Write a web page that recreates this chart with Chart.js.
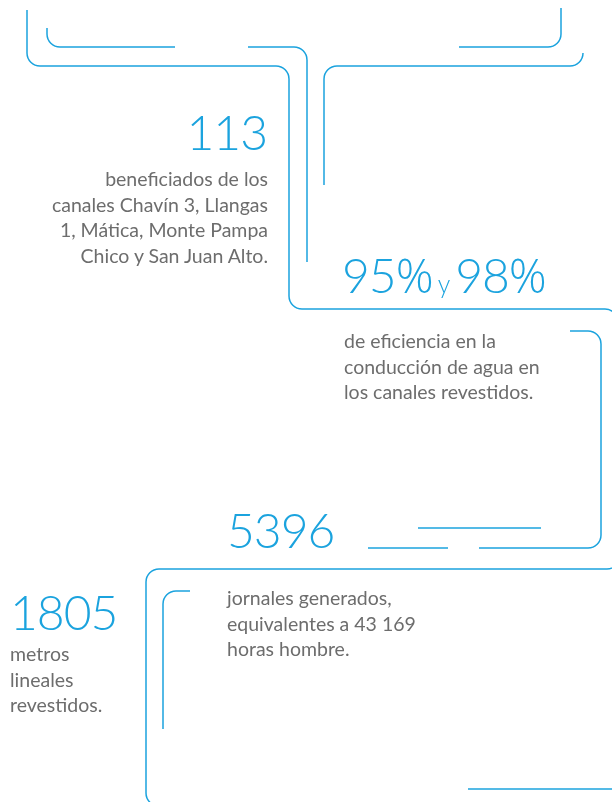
<!DOCTYPE html>
<html lang="es">
<head>
    <meta charset="utf-8" />
    <title>Canales revestidos</title>
    <script src="https://cdn.jsdelivr.net/npm/chart.js"></script>
    <style>
        html, body { margin: 0; padding: 0; background: #fff; }
        #wrap { position: relative; width: 612px; height: 802px; overflow: hidden; }
        #lienzo { position: absolute; left: 0; top: 0; }
        .num, .txt { position: absolute; white-space: nowrap; font-family: Lato, "Open Sans", sans-serif; }
        .num { color: #1ba3de; font-size: 48px; line-height: 48px; font-weight: 300; letter-spacing: -1px; }
        .num small { font-size: 25px; letter-spacing: 0; margin: 0 5px 0 4px; }
        .num .pct { font-family: "Open Sans", sans-serif; font-weight: 300; font-size: 47px; letter-spacing: 0; }
        .txt { color: #6d6d6d; font-size: 19.5px; line-height: 25.5px; font-weight: 400; }
        .right { text-align: right; }
    </style>
</head>
<body>
<div id="wrap">
    <canvas id="lienzo" width="612" height="802"></canvas>
    <div id="textos"></div>
</div>
<script>
    // cifras del informe
    const cifras = ['113', '95%', '98%', '5396', '1805'];
    const textoBeneficiados = ['beneficiados de los', 'canales Chavín 3, Llangas', '1, Mática, Monte Pampa', 'Chico y San Juan Alto.'];
    const textoEficiencia = ['de eficiencia en la', 'conducción de agua en', 'los canales revestidos.'];
    const textoJornales = ['jornales generados,', 'equivalentes a 43 169', 'horas hombre.'];
    const textoMetros = ['metros', 'lineales', 'revestidos.'];

    // trazos decorativos (vertices, las esquinas se redondean)
    const trazoA = [[27, 10], [27, 66], [289, 66], [289, 309], [618, 309], [618, 330]];
    const trazoB = [[47, 28], [47, 47], [175, 47]];
    const trazoB2 = [[248, 47], [307, 47], [307, 262]];
    const trazoC = [[561, 8], [561, 47], [459, 47]];
    const trazoD = [[583, 53], [583, 66], [324, 66], [324, 185]];
    const trazoE = [[570, 331], [601, 331], [601, 548], [479, 548]];
    const trazoE2 = [[368, 548], [448, 548]];
    const trazoE3 = [[418, 528], [541, 528]];
    const trazoF = [[620, 550], [620, 569], [146, 569], [146, 806], [200, 806]];
    const trazoG = [[190, 591], [163, 591], [163, 729]];
    const trazoH = [[468, 789], [612, 789]];

    const trazos = [trazoA, trazoB, trazoB2, trazoC, trazoD, trazoE, trazoE2, trazoE3, trazoF, trazoG, trazoH];
    const AZUL = '#1ba3de';
    const RADIO = 13;

    // dibuja las lineas con esquinas redondeadas a partir de los puntos ya escalados
    const esquinasRedondas = {
        id: 'esquinasRedondas',
        afterDatasetsDraw(chart) {
            const ctx = chart.ctx;
            ctx.save();
            ctx.strokeStyle = AZUL;
            ctx.lineWidth = 1.5;
            ctx.lineCap = 'butt';
            chart.data.datasets.forEach((ds, i) => {
                const pts = chart.getDatasetMeta(i).data;
                if (pts.length < 2) return;
                ctx.beginPath();
                ctx.moveTo(pts[0].x, pts[0].y);
                for (let k = 1; k < pts.length - 1; k++) {
                    const a = pts[k - 1], b = pts[k], c = pts[k + 1];
                    const r = Math.min(RADIO, Math.hypot(b.x - a.x, b.y - a.y), Math.hypot(c.x - b.x, c.y - b.y));
                    ctx.arcTo(b.x, b.y, c.x, c.y, r);
                }
                const ult = pts[pts.length - 1];
                ctx.lineTo(ult.x, ult.y);
                ctx.stroke();
            });
            ctx.restore();
        }
    };

    new Chart(document.getElementById('lienzo'), {
        type: 'scatter',
        data: {
            datasets: trazos.map(t => ({
                data: t.map(p => ({ x: p[0], y: p[1] })),
                showLine: false,
                pointRadius: 0,
                pointHoverRadius: 0
            }))
        },
        options: {
            responsive: false,
            animation: false,
            devicePixelRatio: 1,
            layout: { padding: 0 },
            plugins: { legend: { display: false }, tooltip: { enabled: false } },
            events: [],
            scales: {
                x: { type: 'linear', min: 0, max: 612, display: false },
                y: { type: 'linear', min: 0, max: 802, reverse: true, display: false }
            }
        },
        plugins: [esquinasRedondas]
    });

    // bloques de texto
    const textos = document.getElementById('textos');
    function bloque(clase, html, estilo) {
        const d = document.createElement('div');
        d.className = clase;
        d.innerHTML = html;
        Object.assign(d.style, estilo);
        textos.appendChild(d);
    }
    const conPct = s => s.replace('%', '<span class="pct">%</span>');
    bloque('num right', cifras[0], { right: (612 - 267) + 'px', top: '108px' });
    bloque('txt right', textoBeneficiados.join('<br>'), { right: (612 - 268) + 'px', top: '166px' });
    bloque('num', conPct(cifras[1]) + '<small>y</small>' + conPct(cifras[2]), { left: '342px', top: '251px' });
    bloque('txt', textoEficiencia.join('<br>'), { left: '344px', top: '328px' });
    bloque('num', cifras[3], { left: '227px', top: '506px' });
    bloque('txt', textoJornales.join('<br>'), { left: '227px', top: '585px' });
    bloque('num', cifras[4], { left: '10px', top: '588px' });
    bloque('txt', textoMetros.join('<br>'), { left: '10px', top: '641px' });
</script>
</body>
</html>
